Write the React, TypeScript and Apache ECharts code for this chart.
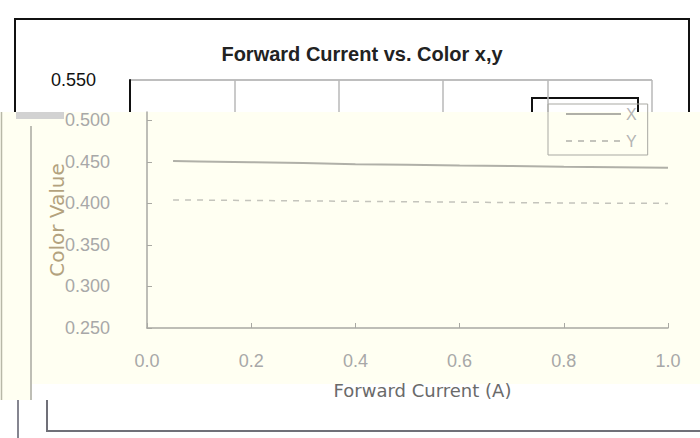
import React, { useEffect, useRef } from "react";
import * as echarts from "echarts";

const currents = [0.05, 0.1, 0.2, 0.3, 0.4, 0.5, 0.6, 0.7, 0.8, 0.9, 1.0];
const xValues = [0.451, 0.4505, 0.4495, 0.4485, 0.447, 0.4465, 0.4455, 0.445, 0.444, 0.4435, 0.443];
const yValues = [0.4042, 0.404, 0.4035, 0.403, 0.4025, 0.402, 0.4015, 0.401, 0.4005, 0.4002, 0.4];
const seriesNames = ["X", "Y"];
const titleText = "Forward Current vs. Color x,y";
const xAxisName = "Forward Current (A)";
const yAxisName = "Color Value";

const CREAM = "#fffff2";
const FAINT = "#a9a9a3";

export default function App() {
  const ref = useRef<HTMLDivElement>(null);
  useEffect(() => {
    if (!ref.current) return;
    const chart = echarts.init(ref.current, undefined, { renderer: "svg" });
    chart.setOption({
      animation: false,
      backgroundColor: "#ffffff",
      title: {
        text: titleText,
        left: 357,
        top: 39,
        textAlign: "center",
        textStyle: {
          fontFamily: "Liberation Sans Narrow, Liberation Sans, Arial",
          fontSize: 20,
          fontWeight: "bold",
          color: "#222222",
        },
      },
      grid: [
        { left: 130, right: 48, top: 80, bottom: 110 },
        { left: 147, right: 32, top: 112, bottom: 110 },
      ],
      xAxis: [
        {
          gridIndex: 0,
          type: "value",
          min: 0,
          max: 1,
          interval: 0.2,
          axisLine: { show: false },
          axisTick: { show: false },
          axisLabel: { show: false },
          splitLine: { show: true, lineStyle: { color: "#b8b8b8", width: 1.5 } },
          z: 0,
        },
        {
          gridIndex: 1,
          type: "value",
          min: 0,
          max: 1,
          interval: 0.2,
          axisLine: { show: true, lineStyle: { color: FAINT, width: 1.5 } },
          axisTick: { show: true, inside: true, length: 5, lineStyle: { color: FAINT } },
          axisLabel: {
            color: "#a8a8a8",
            fontSize: 18,
            margin: 24,
            fontFamily: "Liberation Sans",
            formatter: (v: number) => v.toFixed(1),
          },
          splitLine: { show: false },
          name: xAxisName,
          nameLocation: "middle",
          nameGap: 53,
          nameMoveOverlap: false,
          nameTextStyle: {
            color: "#6a6a6a",
            fontSize: 18,
            fontFamily: "DejaVu Sans",
            padding: [0, 0, 0, 30],
          },
          z: 2,
        },
      ],
      yAxis: [
        {
          gridIndex: 0,
          type: "value",
          min: 0.25,
          max: 0.55,
          interval: 0.05,
          axisLine: { show: true, lineStyle: { color: "#111111", width: 2 } },
          axisTick: { show: false },
          axisLabel: {
            color: "#111111",
            fontSize: 18,
            margin: 34,
            fontFamily: "Liberation Sans",
            formatter: (v: number) => v.toFixed(3),
          },
          splitLine: { show: true, lineStyle: { color: "#a8a8a8", width: 1.5 } },
          z: 0,
        },
        {
          gridIndex: 1,
          type: "value",
          min: 0.25,
          max: 0.51,
          interval: 0.05,
          axisLine: { show: true, lineStyle: { color: FAINT, width: 1.5 } },
          axisTick: { show: true, inside: true, length: 5, lineStyle: { color: FAINT } },
          axisLabel: {
            color: "#a8a8a8",
            fontSize: 18,
            margin: 37,
            showMaxLabel: false,
            fontFamily: "Liberation Sans",
            formatter: (v: number) => v.toFixed(3),
          },
          splitLine: { show: false },
          name: yAxisName,
          nameLocation: "middle",
          nameGap: 80,
          nameMoveOverlap: false,
          nameRotate: 90,
          nameTextStyle: {
            color: "#b3a27e",
            fontSize: 20,
            fontFamily: "DejaVu Sans",
            padding: [0, 0, 0, 0],
          },
          z: 2,
        },
      ],
      legend: {
        data: seriesNames,
        orient: "vertical",
        left: 548,
        top: 104,
        padding: [2, 11, 6, 17],
        itemWidth: 55,
        itemHeight: 14,
        itemGap: 11,
        borderColor: FAINT,
        borderWidth: 1,
        itemStyle: { color: "transparent", borderWidth: 0, opacity: 0 },
        textStyle: { color: "#b4b4b4", fontSize: 16, fontFamily: "Liberation Sans" },
        z: 4,
      },
      series: [
        {
          name: seriesNames[0],
          type: "line",
          xAxisIndex: 1,
          yAxisIndex: 1,
          symbol: "none",
          data: currents.map((c, i) => [c, xValues[i]]),
          lineStyle: { color: "#b0b0a8", width: 2 },
          itemStyle: { color: "#b0b0a8" },
          z: 3,
        },
        {
          name: seriesNames[1],
          type: "line",
          xAxisIndex: 1,
          yAxisIndex: 1,
          symbol: "none",
          data: currents.map((c, i) => [c, yValues[i]]),
          lineStyle: { color: "#c4c4bc", width: 1.5, type: [6, 6] },
          itemStyle: { color: "#c4c4bc" },
          z: 3,
        },
      ],
      graphic: [
        {
          type: "polyline",
          z: 0,
          shape: { points: [[15, 112], [15, 19], [689, 19], [689, 112]] },
          style: { stroke: "#111111", lineWidth: 2, fill: null },
        },
        {
          type: "polyline",
          z: 0,
          shape: { points: [[532, 112], [532, 98], [638, 98], [638, 112]] },
          style: { stroke: "#111111", lineWidth: 2, fill: null },
        },
        {
          type: "rect",
          z: 1,
          shape: { x: 0, y: 112, width: 700, height: 272 },
          style: { fill: CREAM },
        },
        {
          type: "rect",
          z: 1,
          shape: { x: 0, y: 384, width: 32, height: 16 },
          style: { fill: CREAM },
        },
        {
          type: "rect",
          z: 1,
          shape: { x: 16, y: 112, width: 48, height: 7 },
          style: { fill: "#d2d2d2" },
        },
        {
          type: "line",
          z: 2,
          shape: { x1: 1.5, y1: 112, x2: 1.5, y2: 400 },
          style: { stroke: "#b8b8a8", lineWidth: 1.5 },
        },
        {
          type: "line",
          z: 2,
          shape: { x1: 31, y1: 126, x2: 31, y2: 400 },
          style: { stroke: "#a8a8a0", lineWidth: 1.5 },
        },
        {
          type: "line",
          z: 1,
          shape: { x1: 18, y1: 400, x2: 18, y2: 438 },
          style: { stroke: "#858590", lineWidth: 2 },
        },
        {
          type: "polyline",
          z: 1,
          shape: { points: [[47, 400], [47, 431], [700, 431]] },
          style: { stroke: "#707078", lineWidth: 2, fill: null },
        },
      ],
    });
    return () => chart.dispose();
  }, []);
  return (
    <div
      ref={ref}
      style={{ position: "fixed", left: 0, top: 0, width: 700, height: 438, background: "#fff" }}
    />
  );
}
